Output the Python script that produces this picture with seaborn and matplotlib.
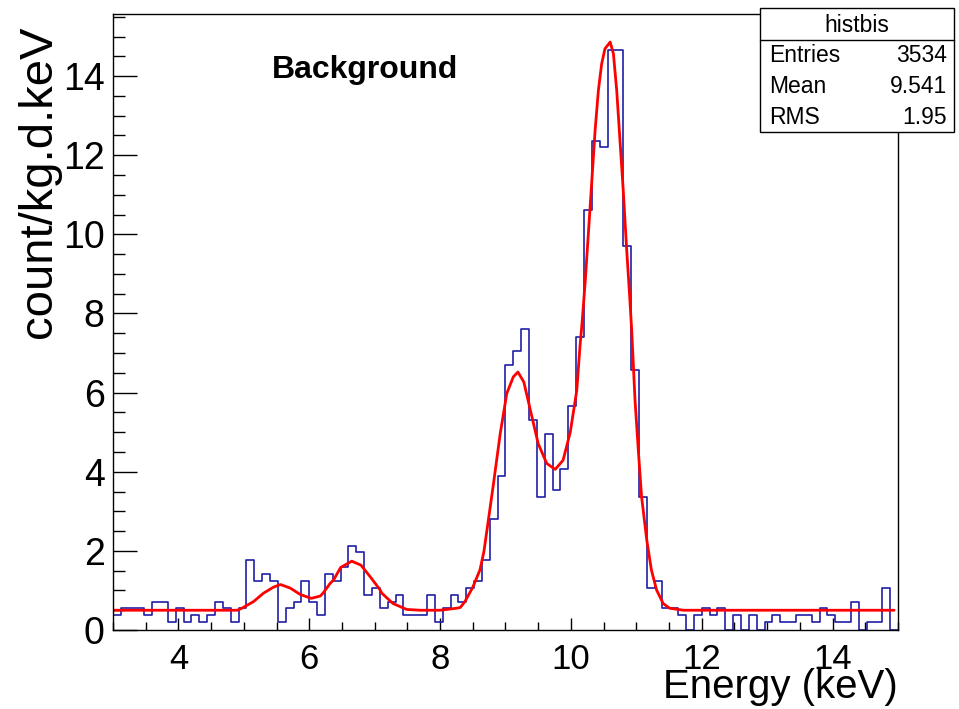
import matplotlib
matplotlib.use("Agg")
import matplotlib.pyplot as plt
import matplotlib.ticker as ticker
from matplotlib.patches import Rectangle
from matplotlib.lines import Line2D
import seaborn as sns
import numpy as np
import pandas as pd

# Histogram: 100 bins of 0.12 keV from 3 to 15 keV
e_min = 3.0
e_max = 15.0
bin_values = [
    0.38, 0.55, 0.55, 0.55, 0.38, 0.72, 0.72, 0.21, 0.55, 0.21,
    0.38, 0.21, 0.38, 0.72, 0.55, 0.21, 0.55, 1.78, 1.23, 1.41,
    1.23, 0.21, 0.55, 0.72, 1.23, 0.72, 0.38, 1.41, 1.23, 1.60,
    2.13, 1.96, 0.89, 1.07, 0.55, 0.72, 0.89, 0.38, 0.38, 0.38,
    0.89, 0.21, 0.55, 0.89, 0.72, 1.07, 1.23, 1.78, 2.81, 3.89,
    6.71, 7.06, 7.61, 5.30, 3.37, 4.95, 3.55, 4.06, 5.65, 7.40,
    10.62, 12.37, 12.20, 14.65, 14.65, 9.71, 6.56, 3.37, 1.06, 1.23,
    0.55, 0.55, 0.38, 0.00, 0.38, 0.55, 0.38, 0.55, 0.00, 0.38,
    0.00, 0.38, 0.00, 0.21, 0.38, 0.21, 0.21, 0.38, 0.38, 0.21,
    0.55, 0.38, 0.21, 0.21, 0.72, 0.00, 0.21, 0.21, 1.06, 0.00,
]

# Fit curve
fit_energy = [
    3.00, 4.90, 4.97, 5.15, 5.30, 5.45, 5.56, 5.71, 5.86, 6.03,
    6.17, 6.21, 6.32, 6.37, 6.48, 6.65, 6.79, 6.94, 7.08, 7.11,
    7.28, 7.49, 7.70, 8.00, 8.25, 8.31, 8.38, 8.50, 8.61, 8.67,
    8.81, 8.92, 9.02, 9.12, 9.19, 9.28, 9.38, 9.50, 9.63, 9.76,
    9.88, 9.99, 10.09, 10.14, 10.17, 10.22, 10.27, 10.32, 10.37, 10.42,
    10.47, 10.52, 10.60, 10.65, 10.70, 10.75, 10.80, 10.85, 10.90, 10.93,
    10.98, 11.03, 11.08, 11.16, 11.23, 11.31, 11.41, 11.51, 11.72, 14.94,
]
fit_value = [
    0.50, 0.50, 0.55, 0.72, 0.93, 1.08, 1.15, 1.06, 0.90, 0.80,
    0.86, 0.93, 1.18, 1.26, 1.58, 1.74, 1.64, 1.33, 1.02, 0.93,
    0.67, 0.52, 0.50, 0.50, 0.55, 0.57, 0.72, 1.08, 1.52, 1.98,
    3.62, 4.97, 5.98, 6.40, 6.52, 6.27, 5.56, 4.71, 4.21, 4.06,
    4.29, 5.00, 6.06, 7.20, 7.75, 8.84, 10.10, 11.36, 12.63, 13.64,
    14.31, 14.69, 14.86, 14.56, 13.64, 12.37, 11.11, 9.68, 8.38, 7.55,
    5.81, 4.55, 3.37, 2.27, 1.52, 1.01, 0.67, 0.55, 0.50, 0.50,
]

stats_title = "histbis"
stats_rows = [("Entries", "3534"), ("Mean", "9.541"), ("RMS", "1.95")]

n_bins = len(bin_values)
bin_width = (e_max - e_min) / n_bins
centers = e_min + bin_width * (np.arange(n_bins) + 0.5)
hist_df = pd.DataFrame({"energy": centers, "rate": bin_values})
fit_df = pd.DataFrame({"energy": fit_energy, "rate": fit_value})

sns.set_theme(style="white")
plt.rcParams["font.family"] = ["Liberation Sans", "DejaVu Sans"]
plt.rcParams.update({"text.color": "black", "axes.labelcolor": "black",
                     "xtick.color": "black", "ytick.color": "black"})

fig = plt.figure(figsize=(9.59, 7.09), dpi=100)
ax = fig.add_axes([0.1178, 0.1114, 0.8186, 0.8689])

sns.histplot(data=hist_df, x="energy", weights="rate", bins=n_bins,
             binrange=(e_min, e_max), element="step", fill=False,
             color="#1f1fa6", linewidth=1.2, ax=ax)
sns.lineplot(data=fit_df, x="energy", y="rate", color="red", linewidth=2.0,
             estimator=None, sort=False, ax=ax)

ax.set_xlim(e_min, e_max)
ax.set_ylim(0, 15.57)

# ROOT-like frame and ticks
for s in ax.spines.values():
    s.set_color("black")
    s.set_linewidth(1.0)
ax.xaxis.set_major_locator(ticker.MultipleLocator(2))
ax.xaxis.set_minor_locator(ticker.MultipleLocator(0.5))
ax.yaxis.set_major_locator(ticker.MultipleLocator(2))
ax.yaxis.set_minor_locator(ticker.MultipleLocator(0.5))
ax.tick_params(which="both", direction="in", bottom=True, left=True,
               top=False, right=False, color="black", width=1.0)
ax.tick_params(axis="x", which="major", length=9, labelsize=25, pad=9)
ax.tick_params(axis="x", which="minor", length=6)
ax.tick_params(axis="y", which="major", length=17, labelsize=27, pad=6)
ax.tick_params(axis="y", which="minor", length=8.5)

ax.set_xlabel("Energy (keV)", fontsize=29, loc="right", color="black")
ax.xaxis.set_label_coords(1.0, -0.092)
ax.xaxis.label.set_va("center")
ax.set_ylabel("count/kg.d.keV", fontsize=34, loc="top", color="black")
ax.yaxis.set_label_coords(-0.094, 0.982)
ax.yaxis.label.set_va("center")

ax.text(0.2836, 0.9013, "Background", transform=fig.transFigure,
        fontsize=23, fontweight="bold", ha="left", va="center", color="black")

# Stats box
x0, x1 = 0.7925, 0.9948
y0, y1 = 0.8138, 0.9887
fig.patches.append(Rectangle((x0, y0), x1 - x0, y1 - y0, transform=fig.transFigure,
                             facecolor="white", edgecolor="black", linewidth=1.0, zorder=5))
fig.lines.append(Line2D([x0, x1], [0.9436, 0.9436], transform=fig.transFigure,
                        color="black", linewidth=1.0, zorder=6))
fig.text((x0 + x1) / 2, 0.9647, stats_title, fontsize=16.5, ha="center", va="center",
         color="black", zorder=7)
for (name, val), yy in zip(stats_rows, [0.9224, 0.8773, 0.8336]):
    fig.text(0.8015, yy, name, fontsize=16.5, ha="left", va="center", color="black", zorder=7)
    fig.text(0.9875, yy, val, fontsize=16.5, ha="right", va="center", color="black", zorder=7)

fig.savefig("out.png", dpi=100)
